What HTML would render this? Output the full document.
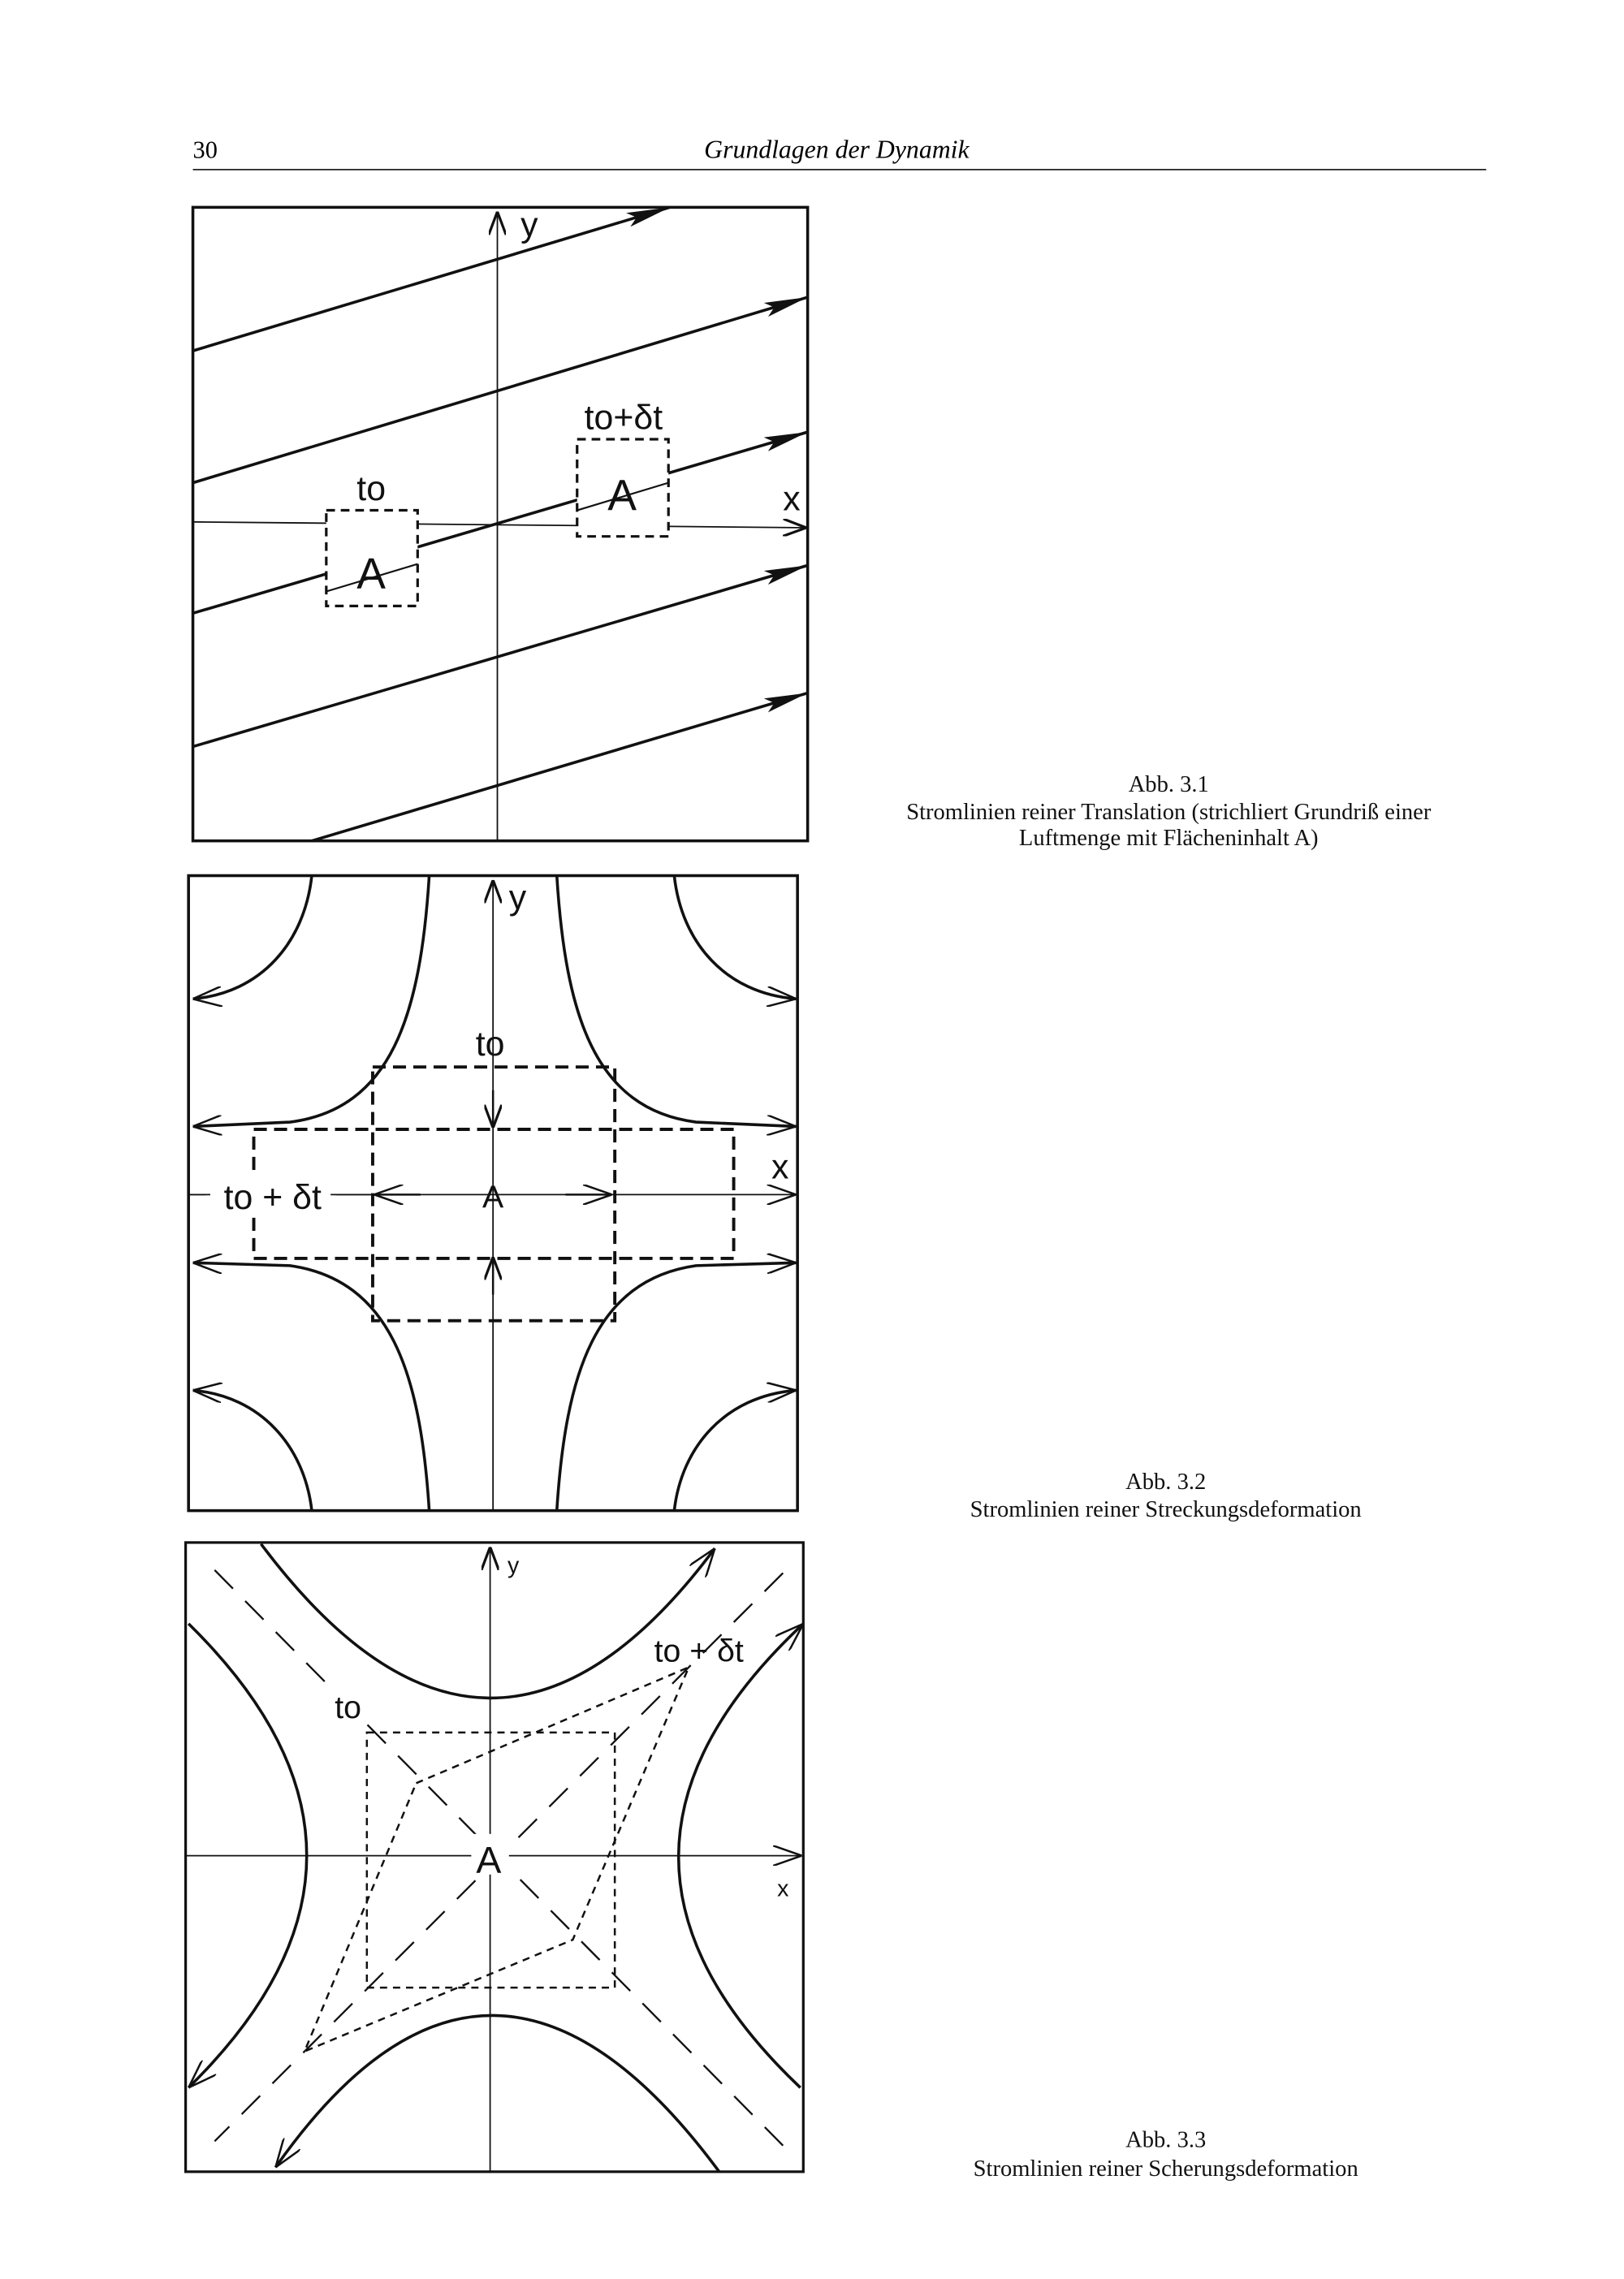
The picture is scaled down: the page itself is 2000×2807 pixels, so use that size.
<!DOCTYPE html>
<html><head><meta charset="utf-8"><style>html,body{margin:0;padding:0;background:#fff}svg{display:block}</style></head>
<body>
<svg width="2000" height="2807" viewBox="0 0 1120 1572" xmlns="http://www.w3.org/2000/svg" font-family="Liberation Sans, sans-serif">
<defs>
<marker id="ah" viewBox="0 0 30 10" refX="30" refY="5" markerWidth="30" markerHeight="10" markerUnits="userSpaceOnUse" orient="auto"><path d="M0,0 L30,5 L0,10 L6,5 Z" fill="#111"/></marker>
<marker id="oa" viewBox="0 0 16 12" refX="16" refY="6" markerWidth="16" markerHeight="12" markerUnits="userSpaceOnUse" orient="auto"><path d="M0,0 L16,6 L0,12" fill="none" stroke="#111" stroke-width="1.8"/></marker>
<marker id="oa2" viewBox="0 0 20 14" refX="20" refY="7" markerWidth="20" markerHeight="14" markerUnits="userSpaceOnUse" orient="auto"><path d="M0,0 L20,7 L0,14" fill="none" stroke="#111" stroke-width="1.4"/></marker>
</defs>
<text x="133" y="109" font-family="Liberation Serif, serif" font-size="17">30</text>
<text x="577" y="109" font-family="Liberation Serif, serif" font-size="17.8" font-style="italic" text-anchor="middle">Grundlagen der Dynamik</text>
<line x1="133" y1="117" x2="1025" y2="117" stroke="#222" stroke-width="1"/>

<!-- Fig 1 -->
<g stroke="#111" fill="none">
<rect x="133" y="143" width="424" height="437" stroke-width="2"/>
<line x1="343" y1="580" x2="343" y2="146" stroke-width="1" marker-end="url(#oa)"/>
<line x1="133" y1="360" x2="556" y2="364" stroke-width="1" marker-end="url(#oa)"/>
<g stroke-width="2">
<line x1="133" y1="242" x2="462" y2="143" marker-end="url(#ah)"/>
<line x1="133" y1="333" x2="557" y2="205" marker-end="url(#ah)"/>
<line x1="133" y1="423" x2="557" y2="298" marker-end="url(#ah)"/>
<line x1="133" y1="515" x2="557" y2="390" marker-end="url(#ah)"/>
<line x1="215" y1="580" x2="557" y2="478" marker-end="url(#ah)"/>
</g>
<g stroke-width="1.8" stroke-dasharray="6,4" fill="#fff">
<rect x="225" y="352" width="63" height="66"/>
<rect x="398" y="303" width="63" height="67"/>
</g>
<line x1="225" y1="408" x2="288" y2="389" stroke-width="1.2"/>
<line x1="398" y1="352" x2="461" y2="333" stroke-width="1.2"/>
</g>
<g font-size="30" fill="#111" text-anchor="middle">
<text x="256" y="406">A</text><text x="429" y="352">A</text>
<text x="256" y="345" font-size="24">to</text><text x="430" y="296" font-size="24">to+δt</text>
<text x="365" y="163" font-size="24">y</text><text x="546" y="352" font-size="24">x</text>
</g>

<!-- Fig 2 -->
<g stroke="#111" fill="none">
<rect x="130" y="604" width="420" height="438" stroke-width="2"/>
<line x1="340" y1="1042" x2="340" y2="607" stroke-width="1" marker-end="url(#oa)"/>
<line x1="130" y1="824" x2="549" y2="824" stroke-width="1" marker-end="url(#oa2)"/>
<g stroke-width="2">
<path d="M296,604 C290,700 270,765 200,774 L133,777" marker-end="url(#oa2)"/>
<path d="M384,604 C390,700 410,765 480,774 L549,777" marker-end="url(#oa2)"/>
<path d="M296,1042 C290,948 270,883 200,873 L133,871" marker-end="url(#oa2)"/>
<path d="M384,1042 C390,948 410,883 480,873 L549,871" marker-end="url(#oa2)"/>
<path d="M215,604 C210,650 180,685 133,689" marker-end="url(#oa2)"/>
<path d="M465,604 C470,650 500,685 549,689" marker-end="url(#oa2)"/>
<path d="M215,1042 C210,998 180,963 133,959" marker-end="url(#oa2)"/>
<path d="M465,1042 C470,998 500,963 549,959" marker-end="url(#oa2)"/>
</g>
<g stroke-width="2.2" stroke-dasharray="9,5">
<rect x="257" y="736" width="167" height="175"/>
<rect x="175" y="779" width="331" height="89"/>
</g>
<line x1="340" y1="752" x2="340" y2="778" stroke-width="1.4" marker-end="url(#oa)"/>
<line x1="340" y1="893" x2="340" y2="867" stroke-width="1.4" marker-end="url(#oa)"/>
<line x1="290" y1="824" x2="258" y2="824" stroke-width="1.4" marker-end="url(#oa2)"/>
<line x1="390" y1="824" x2="422" y2="824" stroke-width="1.4" marker-end="url(#oa2)"/>
</g>
<rect x="142" y="810" width="90" height="28" fill="#fff"/>
<line x1="130" y1="824" x2="145" y2="824" stroke="#111"/><line x1="228" y1="824" x2="258" y2="824" stroke="#111"/>
<g font-size="24" fill="#111" text-anchor="middle">
<text x="338" y="728">to</text><text x="188" y="834">to + δt</text>
<text x="340" y="833" font-size="22">A</text>
<text x="538" y="813">x</text><text x="357" y="627">y</text>
</g>

<!-- Fig 3 -->
<g stroke="#111" fill="none">
<rect x="128" y="1064" width="426" height="434" stroke-width="1.8"/>
<line x1="338" y1="1498" x2="338" y2="1067" stroke-width="1" marker-end="url(#oa)"/>
<line x1="128" y1="1280" x2="553" y2="1280" stroke-width="1" marker-end="url(#oa2)"/>
<g stroke-width="2">
<path d="M180,1065 Q338,1276 493,1068" marker-end="url(#oa2)"/>
<path d="M496,1498 Q338,1284 190,1495" marker-end="url(#oa2)"/>
<path d="M130,1120 Q293,1280 130,1440" marker-end="url(#oa2)"/>
<path d="M552,1440 Q383,1280 554,1120" marker-end="url(#oa2)"/>
</g>
<g stroke-width="1.3" stroke-dasharray="18,12">
<line x1="148" y1="1083" x2="540" y2="1480"/>
<line x1="540" y1="1085" x2="148" y2="1477"/>
</g>
<g stroke-width="1.4" stroke-dasharray="5,4">
<rect x="253" y="1195" width="171" height="176"/>
<path d="M287,1230 L475,1150 L395,1338 L210,1415 Z"/>
</g>
</g>
<rect x="325" y="1265" width="26" height="28" fill="#fff"/>
<rect x="228" y="1164" width="22" height="24" fill="#fff"/>
<g font-size="22" fill="#111" text-anchor="middle">
<text x="337" y="1292" font-size="26">A</text>
<text x="240" y="1185">to</text><text x="482" y="1146">to + δt</text>
<text x="354" y="1085" font-size="16">y</text><text x="540" y="1308" font-size="16">x</text>
</g>

<g font-family="Liberation Serif, serif" font-size="16" fill="#111" text-anchor="middle">
<text x="806" y="546">Abb. 3.1</text>
<text x="806" y="565">Stromlinien reiner Translation (strichliert Grundriß einer</text>
<text x="806" y="583">Luftmenge mit Flächeninhalt A)</text>
<text x="804" y="1027">Abb. 3.2</text>
<text x="804" y="1046">Stromlinien reiner Streckungsdeformation</text>
<text x="804" y="1481">Abb. 3.3</text>
<text x="804" y="1501">Stromlinien reiner Scherungsdeformation</text>
</g>
</svg>
</body></html>
